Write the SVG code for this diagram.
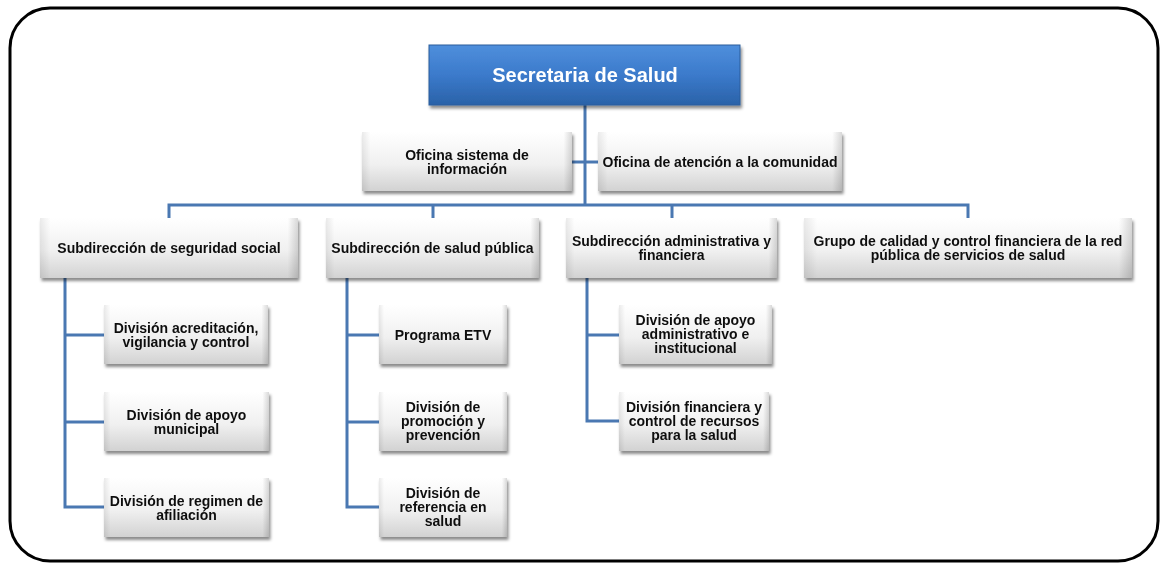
<svg xmlns="http://www.w3.org/2000/svg" width="1161" height="564" viewBox="0 0 1161 564">
<style>
.box{fill:url(#g);}
.edge{fill:url(#h);}
.t{font-family:"Liberation Sans",Arial,sans-serif;font-weight:bold;font-size:14px;fill:#111;text-anchor:middle;}
.tt{font-family:"Liberation Sans",Arial,sans-serif;font-weight:bold;font-size:20px;fill:#fff;text-anchor:middle;}
.c{fill:none;stroke:#4a78b2;stroke-width:3;}
</style>
<defs>
<linearGradient id="g" x1="0" y1="0" x2="0" y2="1">
<stop offset="0" stop-color="#ffffff"/>
<stop offset="0.55" stop-color="#f0f0f0"/>
<stop offset="1" stop-color="#d2d2d2"/>
</linearGradient>
<linearGradient id="h" x1="0" y1="0" x2="1" y2="0">
<stop offset="0" stop-color="#000" stop-opacity="0.08"/>
<stop offset="0.04" stop-color="#000" stop-opacity="0"/>
<stop offset="0.96" stop-color="#000" stop-opacity="0"/>
<stop offset="1" stop-color="#000" stop-opacity="0.15"/>
</linearGradient>
<linearGradient id="b" x1="0" y1="0" x2="0" y2="1">
<stop offset="0" stop-color="#4f8fdc"/>
<stop offset="0.5" stop-color="#3b7acb"/>
<stop offset="1" stop-color="#2a62a8"/>
</linearGradient>
<filter id="s" x="-10%" y="-20%" width="125%" height="150%">
<feDropShadow dx="1.5" dy="3" stdDeviation="1.8" flood-color="#000" flood-opacity="0.45"/>
</filter>
</defs>
<rect x="10" y="8" width="1148" height="553" rx="40" fill="#fff" stroke="#000" stroke-width="3"/>
<g id="connectors">
<path class="c" d="M585 105V205"/>
<path class="c" d="M572 162H598"/>
<path class="c" d="M169 218V205H968V218M433 205V218M672 205V218"/>
<path class="c" d="M65 278V507H104M65 335H104M65 422H104"/>
<path class="c" d="M347 278V507H379M347 335H379M347 422H379"/>
<path class="c" d="M587 278V421H619M587 335H619"/>
</g>
<g id="secretaria" filter="url(#s)">
<rect x="429" y="45" width="311" height="60" fill="url(#b)" stroke="#2b5d9c" stroke-width="1"/>
<text class="tt" x="585" y="82">Secretaria de Salud</text>
</g>
<g id="oficina-sistema" filter="url(#s)">
<rect class="box" x="362" y="132" width="210" height="59"/><rect class="edge" x="362" y="132" width="210" height="59"/>
<text class="t" x="467" y="160">Oficina sistema de</text><text class="t" x="467" y="174">información</text>
</g>
<g id="oficina-atencion" filter="url(#s)">
<rect class="box" x="598" y="132" width="244" height="59"/><rect class="edge" x="598" y="132" width="244" height="59"/>
<text class="t" x="720" y="167">Oficina de atención a la comunidad</text>
</g>
<g id="sub-seguridad" filter="url(#s)">
<rect class="box" x="40" y="218" width="258" height="60"/><rect class="edge" x="40" y="218" width="258" height="60"/>
<text class="t" x="169" y="253">Subdirección de seguridad social</text>
</g>
<g id="sub-salud" filter="url(#s)">
<rect class="box" x="326" y="218" width="213" height="60"/><rect class="edge" x="326" y="218" width="213" height="60"/>
<text class="t" x="432.5" y="253">Subdirección de salud pública</text>
</g>
<g id="sub-admin" filter="url(#s)">
<rect class="box" x="566" y="218" width="211" height="60"/><rect class="edge" x="566" y="218" width="211" height="60"/>
<text class="t" x="671.5" y="246">Subdirección administrativa y</text><text class="t" x="671.5" y="260">financiera</text>
</g>
<g id="grupo-calidad" filter="url(#s)">
<rect class="box" x="804" y="218" width="328" height="60"/><rect class="edge" x="804" y="218" width="328" height="60"/>
<text class="t" x="968" y="246">Grupo de calidad y control financiera de la red</text><text class="t" x="968" y="260">pública de servicios de salud</text>
</g>
<g id="div-acreditacion" filter="url(#s)">
<rect class="box" x="104" y="305" width="164" height="59"/><rect class="edge" x="104" y="305" width="164" height="59"/>
<text class="t" x="186" y="333">División acreditación,</text><text class="t" x="186" y="347">vigilancia y control</text>
</g>
<g id="div-apoyo-municipal" filter="url(#s)">
<rect class="box" x="104" y="392" width="165" height="59"/><rect class="edge" x="104" y="392" width="165" height="59"/>
<text class="t" x="186.5" y="420">División de apoyo</text><text class="t" x="186.5" y="434">municipal</text>
</g>
<g id="div-regimen" filter="url(#s)">
<rect class="box" x="104" y="478" width="165" height="59"/><rect class="edge" x="104" y="478" width="165" height="59"/>
<text class="t" x="186.5" y="506">División de regimen de</text><text class="t" x="186.5" y="520">afiliación</text>
</g>
<g id="programa-etv" filter="url(#s)">
<rect class="box" x="379" y="305" width="128" height="59"/><rect class="edge" x="379" y="305" width="128" height="59"/>
<text class="t" x="443" y="340">Programa ETV</text>
</g>
<g id="div-promocion" filter="url(#s)">
<rect class="box" x="379" y="392" width="128" height="59"/><rect class="edge" x="379" y="392" width="128" height="59"/>
<text class="t" x="443" y="412">División de</text><text class="t" x="443" y="426">promoción y</text><text class="t" x="443" y="440">prevención</text>
</g>
<g id="div-referencia" filter="url(#s)">
<rect class="box" x="379" y="478" width="128" height="59"/><rect class="edge" x="379" y="478" width="128" height="59"/>
<text class="t" x="443" y="498">División de</text><text class="t" x="443" y="512">referencia en</text><text class="t" x="443" y="526">salud</text>
</g>
<g id="div-apoyo-admin" filter="url(#s)">
<rect class="box" x="619" y="305" width="153" height="59"/><rect class="edge" x="619" y="305" width="153" height="59"/>
<text class="t" x="695.5" y="325">División de apoyo</text><text class="t" x="695.5" y="339">administrativo e</text><text class="t" x="695.5" y="353">institucional</text>
</g>
<g id="div-financiera" filter="url(#s)">
<rect class="box" x="619" y="392" width="150" height="59"/><rect class="edge" x="619" y="392" width="150" height="59"/>
<text class="t" x="694" y="412">División financiera y</text><text class="t" x="694" y="426">control de recursos</text><text class="t" x="694" y="440">para la salud</text>
</g>
</svg>
